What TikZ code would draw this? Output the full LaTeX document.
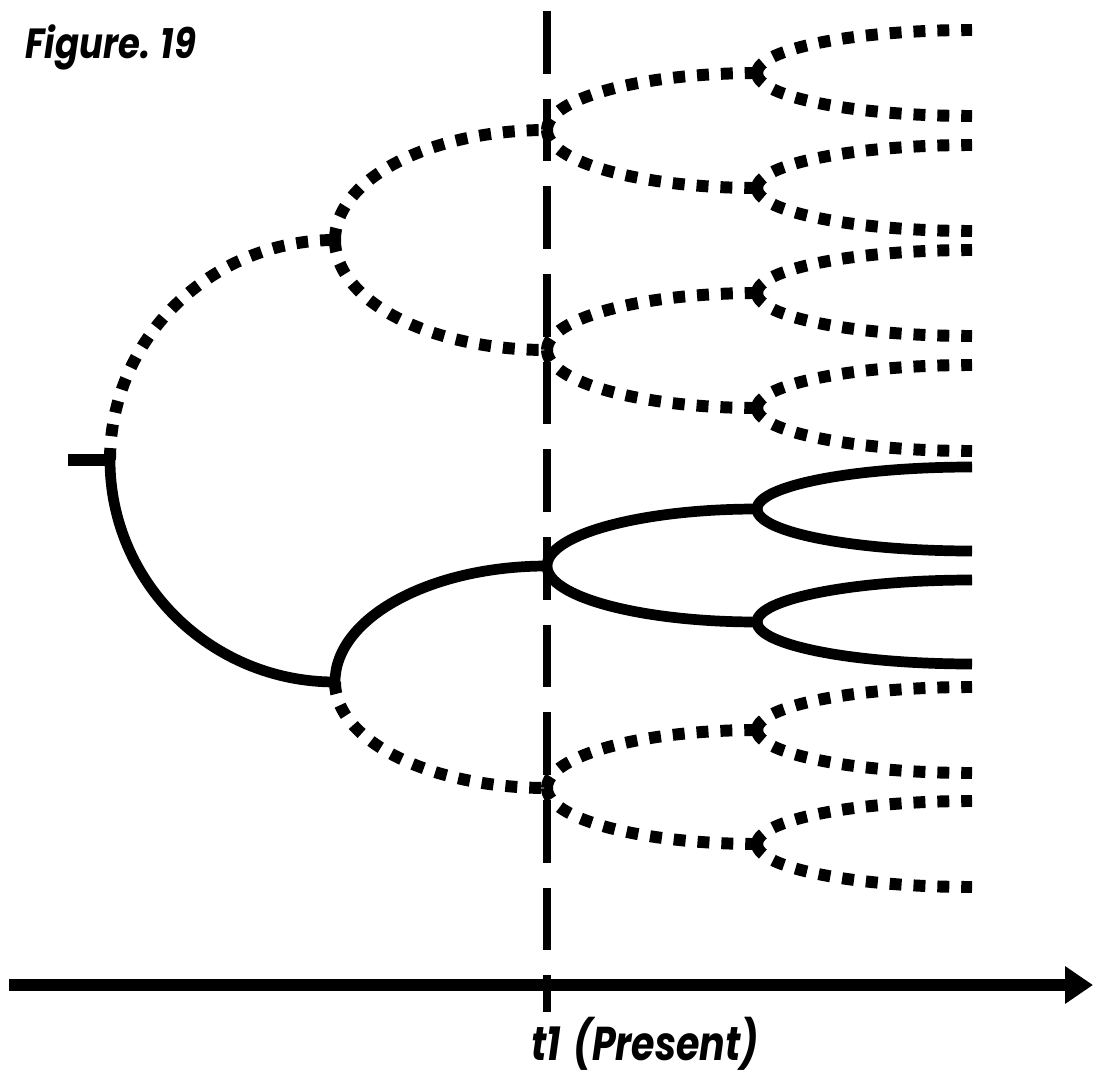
\documentclass[tikz,border=0pt]{standalone}
\usepackage{fontspec}
\newfontfamily\figfont{Poppins}
\usetikzlibrary{arrows.meta,calc}

\tikzset{
  solidbr/.style={line width=6.1pt},
  dotbr/.style={line width=6.8pt,dash pattern=on 6.8pt off 6.8pt},
  presentline/.style={line width=4.5pt,dash pattern=on 35.7pt off 14.2pt},
  axisline/.style={line width=6.8pt,-{Triangle[length=15.9pt,width=20.4pt]}},
  figtext/.style={inner sep=0pt,font=\figfont\bfseries\itshape}
}

\begin{document}
\begin{tikzpicture}[x=0.02cm,y=-0.02cm]
\useasboundingbox (0,0) rectangle (1093,1075);
% Arbre de branques
\coordinate (s) at (68,460);
\coordinate (r) at (110,460);
\coordinate (a) at (335,240);
\coordinate (b) at (335,682);
\coordinate (aa) at (547,130);
\coordinate (ab) at (547,350);
\coordinate (ba) at (547,566);
\coordinate (bb) at (547,788);
\coordinate (aaa) at (757,73);
\coordinate (aab) at (757,188);
\coordinate (aba) at (757,293);
\coordinate (abb) at (757,408);
\coordinate (baa) at (757,509);
\coordinate (bab) at (757,622);
\coordinate (bba) at (757,730);
\coordinate (bbb) at (757,844);
\foreach \n/\y in {aaaa/30,aaab/116,aaba/145,aabb/231,abaa/250,abab/336,abba/365,abbb/451,
                   baaa/467,baab/551,baba/580,babb/664,bbaa/687,bbab/773,bbba/801,bbbb/887}
  \coordinate (\n) at (972,\y);
% Present
\coordinate (top) at (547,11);
\coordinate (tick) at (547,1012);
\draw[presentline] (top) -- (tick);
\draw[solidbr,line width=6.8pt] (s) -- (r);
\foreach \p/\c/\st in {r/a/dotbr,r/b/solidbr,a/aa/dotbr,a/ab/dotbr,b/ba/solidbr,b/bb/dotbr,
    aa/aaa/dotbr,aa/aab/dotbr,ab/aba/dotbr,ab/abb/dotbr,ba/baa/solidbr,ba/bab/solidbr,bb/bba/dotbr,bb/bbb/dotbr,
    aaa/aaaa/dotbr,aaa/aaab/dotbr,aab/aaba/dotbr,aab/aabb/dotbr,aba/abaa/dotbr,aba/abab/dotbr,abb/abba/dotbr,abb/abbb/dotbr,
    baa/baaa/solidbr,baa/baab/solidbr,bab/baba/solidbr,bab/babb/solidbr,bba/bbaa/dotbr,bba/bbab/dotbr,bbb/bbba/dotbr,bbb/bbbb/dotbr}
  \draw[\st] (\p) .. controls ($(\p)!0.552!(\p|-\c)$) and ($(\c)!0.552!(\p|-\c)$) .. (\c);
% Eix del temps
\coordinate (ax0) at (9,985);
\coordinate (ax1) at (1093,985);
\draw[axisline] (ax0) -- (ax1);
\node[figtext,anchor=base west,font=\figfont\bfseries\itshape\fontsize{24}{28}\selectfont] (title) at (25,58) {\scalebox{0.84}[1]{Figure. 19}};
\node[figtext,anchor=base,font=\figfont\bfseries\itshape\fontsize{27}{32}\selectfont] (present) at (645,1060) {\scalebox{0.8}[1]{t1\hspace{0.35em}(Present)}};
\end{tikzpicture}
\end{document}
